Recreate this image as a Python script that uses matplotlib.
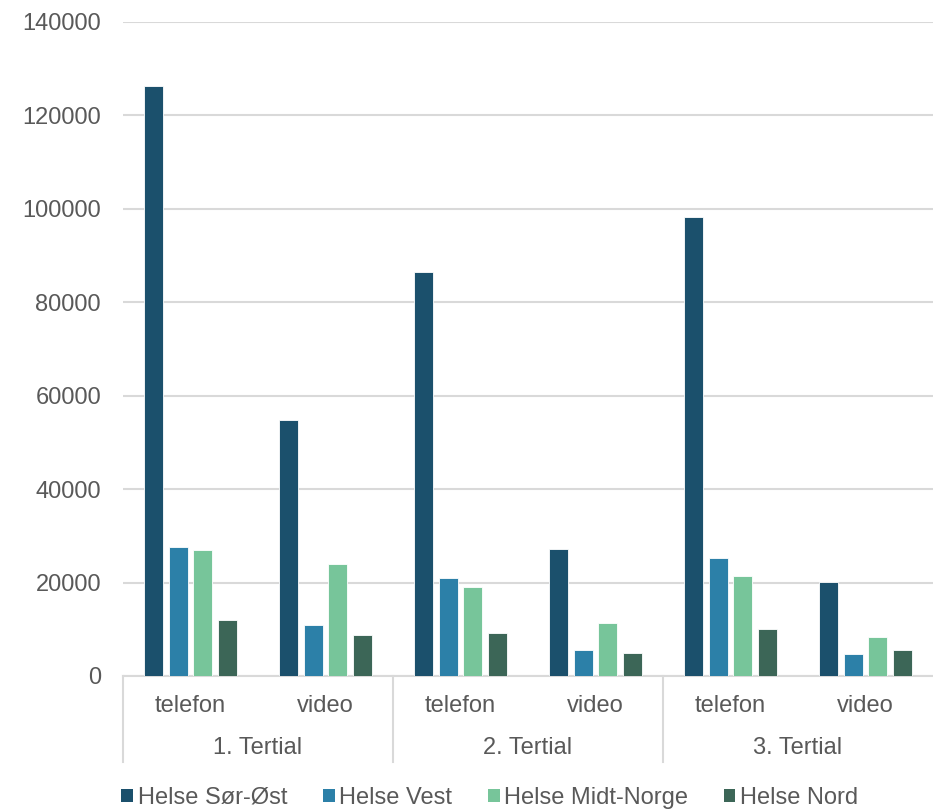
import numpy as np
import matplotlib.pyplot as plt
from matplotlib.patches import Patch

plt.rcParams['font.family'] = ['Liberation Sans', 'DejaVu Sans']

# data
tertials = ['1. Tertial', '2. Tertial', '3. Tertial']
kinds = ['telefon', 'video']
regions = ['Helse Sør-Øst', 'Helse Vest', 'Helse Midt-Norge', 'Helse Nord']
sor_ost = [126300, 54700, 86400, 27200, 98200, 20200]
vest = [27600, 11000, 21000, 5600, 25200, 4800]
midt = [27000, 24000, 19000, 11300, 21400, 8300]
nord = [12000, 8800, 9200, 5000, 10000, 5500]
colors = ['#1B506C', '#2C80A8', '#77C59A', '#3C6657']

series = [sor_ost, vest, midt, nord]
txt = '#595959'
grid = '#D9D9D9'
fs = 17

fig = plt.figure(figsize=(9.33, 8.10), dpi=100)
ax = fig.add_axes([123/933, 134/810, 810/933, 654/810])

x = np.arange(len(sor_ost))
step = 0.182
bw = 0.142
for i, (vals, col) in enumerate(zip(series, colors)):
    ax.bar(x + (i - 1.5)*step, vals, width=bw, color=col,
           edgecolor='white', linewidth=0.6, zorder=3)

ax.set_xlim(-0.5, len(x) - 0.5)
ax.set_ylim(0, 140000)
ax.set_yticks(np.arange(0, 140001, 20000))
ax.yaxis.grid(True, color=grid, linewidth=1.5, zorder=0)
ax.tick_params(axis='y', length=0, pad=15.8, labelsize=fs, labelcolor=txt)
ax.tick_params(axis='x', length=0)
ax.set_xticks([])
for s in ['top', 'right', 'left']:
    ax.spines[s].set_visible(False)
ax.spines['bottom'].set_color(grid)
ax.spines['bottom'].set_linewidth(1.5)

tr = ax.get_xaxis_transform()
labels = kinds * len(tertials)
for xi, lab in zip(x, labels):
    ax.text(xi, -0.046, lab, transform=tr, ha='center', va='center',
            fontsize=fs, color=txt)
for j, t in enumerate(tertials):
    ax.text(2*j + 0.5, -0.110, t, transform=tr, ha='center', va='center',
            fontsize=fs, color=txt)
for b in [-0.5, 1.5, 3.5]:
    ax.plot([b, b], [0, -0.131], transform=tr, color=grid, linewidth=1.5,
            clip_on=False)

handles = [Patch(facecolor=c, edgecolor='none') for c in colors]
fig.legend(handles, regions, loc='center', bbox_to_anchor=(0.525, 0.015),
           ncol=4, frameon=False, fontsize=fs, labelcolor=txt,
           handlelength=0.5, handleheight=0.5, handletextpad=0.2,
           columnspacing=1.5)

fig.savefig('out.png', dpi=100)
